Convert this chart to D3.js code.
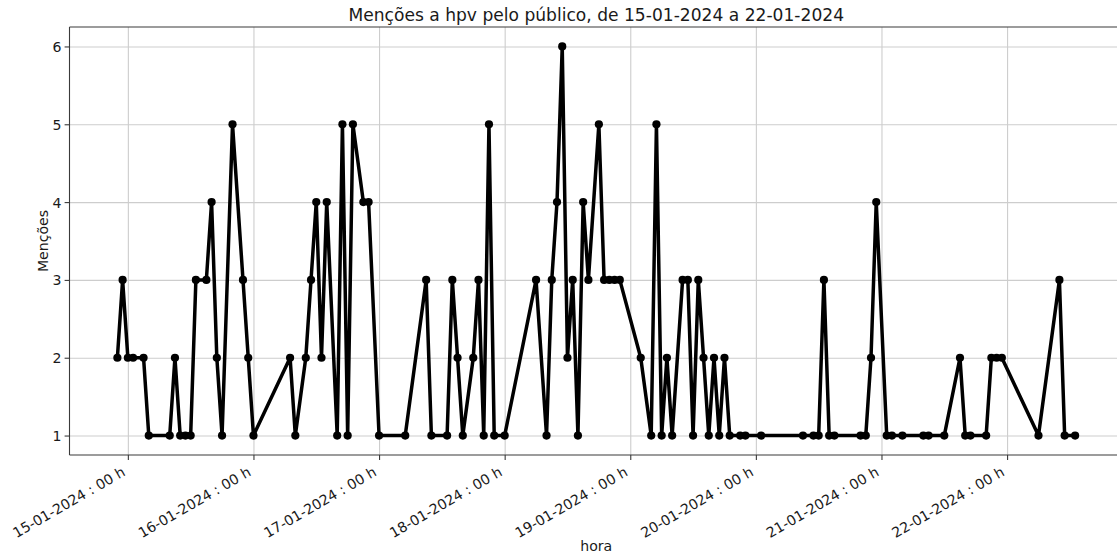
<!DOCTYPE html>
<html>
<head>
<meta charset="utf-8">
<script src="https://cdn.jsdelivr.net/npm/d3@7"></script>
<style>
  html, body { margin: 0; padding: 0; background: #ffffff; }
  svg { display: block; font-family: "DejaVu Sans", sans-serif; }
</style>
</head>
<body>
<svg id="chart" width="1117" height="556"></svg>
<script>
// Hourly mentions (timestamp "dd-mm-yyyy HH") and counts
const times = [
  "14-01-2024 22", "14-01-2024 23",
  "15-01-2024 00", "15-01-2024 01", "15-01-2024 03", "15-01-2024 04", "15-01-2024 08",
  "15-01-2024 09", "15-01-2024 10", "15-01-2024 11", "15-01-2024 12", "15-01-2024 13",
  "15-01-2024 15", "15-01-2024 16", "15-01-2024 17", "15-01-2024 18", "15-01-2024 20",
  "15-01-2024 22", "15-01-2024 23",
  "16-01-2024 00", "16-01-2024 07", "16-01-2024 08", "16-01-2024 10", "16-01-2024 11",
  "16-01-2024 12", "16-01-2024 13", "16-01-2024 14", "16-01-2024 16", "16-01-2024 17",
  "16-01-2024 18", "16-01-2024 19", "16-01-2024 21", "16-01-2024 22",
  "17-01-2024 00", "17-01-2024 05", "17-01-2024 09", "17-01-2024 10", "17-01-2024 13",
  "17-01-2024 14", "17-01-2024 15", "17-01-2024 16", "17-01-2024 18", "17-01-2024 19",
  "17-01-2024 20", "17-01-2024 21", "17-01-2024 22",
  "18-01-2024 00", "18-01-2024 06", "18-01-2024 08", "18-01-2024 09", "18-01-2024 10",
  "18-01-2024 11", "18-01-2024 12", "18-01-2024 13", "18-01-2024 14", "18-01-2024 15",
  "18-01-2024 16", "18-01-2024 18", "18-01-2024 19", "18-01-2024 20", "18-01-2024 21",
  "18-01-2024 22",
  "19-01-2024 02", "19-01-2024 04", "19-01-2024 05", "19-01-2024 06", "19-01-2024 07",
  "19-01-2024 08", "19-01-2024 10", "19-01-2024 11", "19-01-2024 12", "19-01-2024 13",
  "19-01-2024 14", "19-01-2024 15", "19-01-2024 16", "19-01-2024 17", "19-01-2024 18",
  "19-01-2024 19", "19-01-2024 21", "19-01-2024 22",
  "20-01-2024 01", "20-01-2024 09", "20-01-2024 11", "20-01-2024 12", "20-01-2024 13",
  "20-01-2024 14", "20-01-2024 15", "20-01-2024 20", "20-01-2024 21", "20-01-2024 22",
  "20-01-2024 23",
  "21-01-2024 01", "21-01-2024 02", "21-01-2024 04", "21-01-2024 08", "21-01-2024 09",
  "21-01-2024 12", "21-01-2024 15", "21-01-2024 16", "21-01-2024 17", "21-01-2024 20",
  "21-01-2024 21", "21-01-2024 22", "21-01-2024 23",
  "22-01-2024 06", "22-01-2024 10", "22-01-2024 11", "22-01-2024 13"
];

const mentions = [
  2, 3,
  2, 2, 2, 1, 1,
  2, 1, 1, 1, 3,
  3, 4, 2, 1, 5,
  3, 2,
  1, 2, 1, 2, 3,
  4, 2, 4, 1, 5,
  1, 5, 4, 4,
  1, 1, 3, 1, 1,
  3, 2, 1, 2, 3,
  1, 5, 1,
  1, 3, 1, 3, 4,
  6, 2, 3, 1, 4,
  3, 5, 3, 3, 3,
  3,
  2, 1, 5, 1, 2,
  1, 3, 3, 1, 3,
  2, 1, 2, 1, 2,
  1, 1, 1,
  1, 1, 1, 1, 3,
  1, 1, 1, 1, 2,
  4,
  1, 1, 1, 1, 1,
  1, 2, 1, 1, 1,
  2, 2, 2,
  1, 3, 1, 1
];

const tickDays = [
  "15-01-2024 00", "16-01-2024 00", "17-01-2024 00", "18-01-2024 00",
  "19-01-2024 00", "20-01-2024 00", "21-01-2024 00", "22-01-2024 00"
];
const yTicks = [1, 2, 3, 4, 5, 6];

const titleText = "Menções a hpv pelo público, de 15-01-2024 a 22-01-2024";
const xLabel = "hora";
const yLabel = "Menções";

const parse = d3.timeParse("%d-%m-%Y %H");
const fmt = d3.timeFormat("%d-%m-%Y : %H h");

const data = times.map((t, i) => ({ t: parse(t), v: mentions[i] }));

// Plot frame
const plotLeft = 69.5, plotRight = 1123, plotTop = 27, plotBottom = 455;

const svg = d3.select("#chart");

// Axis extents padded by 5% of the data span on each side
const tExt = d3.extent(data, d => d.t);
const span = tExt[1] - tExt[0];
const x = d3.scaleTime()
  .domain([new Date(+tExt[0] - span * 0.05), new Date(+tExt[1] + span * 0.05)])
  .range([plotLeft, plotRight]);

const vExt = d3.extent(data, d => d.v);
const vSpan = vExt[1] - vExt[0];
const y = d3.scaleLinear()
  .domain([vExt[0] - vSpan * 0.05, vExt[1] + vSpan * 0.05])
  .range([plotBottom, plotTop]);

const tickDates = tickDays.map(parse);

// Grid lines
const grid = svg.append("g").attr("class", "grid");
grid.append("g")
  .attr("transform", `translate(0,${plotBottom})`)
  .call(d3.axisBottom(x).tickValues(tickDates).tickSize(-(plotBottom - plotTop)).tickFormat(""))
  .call(g => g.select(".domain").remove())
  .call(g => g.selectAll("line").attr("stroke", "#cdcdcd").attr("stroke-width", 1.1));
grid.append("g")
  .attr("transform", `translate(${plotLeft},0)`)
  .call(d3.axisLeft(y).tickValues(yTicks).tickSize(-(plotRight - plotLeft)).tickFormat(""))
  .call(g => g.select(".domain").remove())
  .call(g => g.selectAll("line").attr("stroke", "#cdcdcd").attr("stroke-width", 1.1));

// Series line and markers
const line = d3.line().x(d => x(d.t)).y(d => y(d.v));
svg.append("path")
  .datum(data)
  .attr("fill", "none")
  .attr("stroke", "#000000")
  .attr("stroke-width", 3.5)
  .attr("stroke-linejoin", "round")
  .attr("d", line);

svg.append("g")
  .selectAll("circle")
  .data(data)
  .join("circle")
  .attr("cx", d => x(d.t))
  .attr("cy", d => y(d.v))
  .attr("r", 4.1)
  .attr("fill", "#000000");

// Frame
const frame = svg.append("g")
  .attr("fill", "none")
  .attr("stroke", "#3a3a3a")
  .attr("stroke-width", 1.1);
frame.append("line").attr("x1", plotLeft).attr("x2", plotRight).attr("y1", plotTop).attr("y2", plotTop);
frame.append("line").attr("x1", plotLeft).attr("x2", plotRight).attr("y1", plotBottom).attr("y2", plotBottom);
frame.append("line").attr("x1", plotLeft).attr("x2", plotLeft).attr("y1", plotTop).attr("y2", plotBottom);
frame.append("line").attr("x1", plotRight).attr("x2", plotRight).attr("y1", plotTop).attr("y2", plotBottom);

// X axis with rotated date labels
const xAxis = svg.append("g")
  .attr("transform", `translate(0,${plotBottom})`)
  .call(d3.axisBottom(x).tickValues(tickDates).tickSize(4.9).tickFormat(fmt));
xAxis.select(".domain").remove();
xAxis.selectAll(".tick line").attr("stroke", "#3a3a3a").attr("stroke-width", 1.1);
xAxis.selectAll(".tick text")
  .attr("x", null).attr("y", null).attr("dy", null)
  .attr("transform", "translate(-2,19.8) rotate(-30)")
  .attr("text-anchor", "end")
  .attr("fill", "#1a1a1a")
  .style("font-size", "14.1px")
  .style("font-family", "DejaVu Sans");

// Y axis
const yAxis = svg.append("g")
  .attr("transform", `translate(${plotLeft},0)`)
  .call(d3.axisLeft(y).tickValues(yTicks).tickSize(4.9).tickFormat(d3.format("d")));
yAxis.select(".domain").remove();
yAxis.selectAll(".tick line").attr("stroke", "#3a3a3a").attr("stroke-width", 1.1);
yAxis.selectAll(".tick text")
  .attr("x", -8)
  .attr("dy", "0.36em")
  .attr("fill", "#1a1a1a")
  .style("font-size", "14.1px")
  .style("font-family", "DejaVu Sans");

// Titles
svg.append("text")
  .attr("x", (plotLeft + plotRight) / 2)
  .attr("y", 20.7)
  .attr("text-anchor", "middle")
  .attr("fill", "#1a1a1a")
  .style("font-size", "17.1px")
  .text(titleText);

svg.append("text")
  .attr("x", (plotLeft + plotRight) / 2)
  .attr("y", 551)
  .attr("text-anchor", "middle")
  .attr("fill", "#1a1a1a")
  .style("font-size", "14.1px")
  .text(xLabel);

svg.append("text")
  .attr("transform", `translate(47.8,${(plotTop + plotBottom) / 2}) rotate(-90)`)
  .attr("text-anchor", "middle")
  .attr("fill", "#1a1a1a")
  .style("font-size", "14.1px")
  .text(yLabel);
</script>
</body>
</html>
